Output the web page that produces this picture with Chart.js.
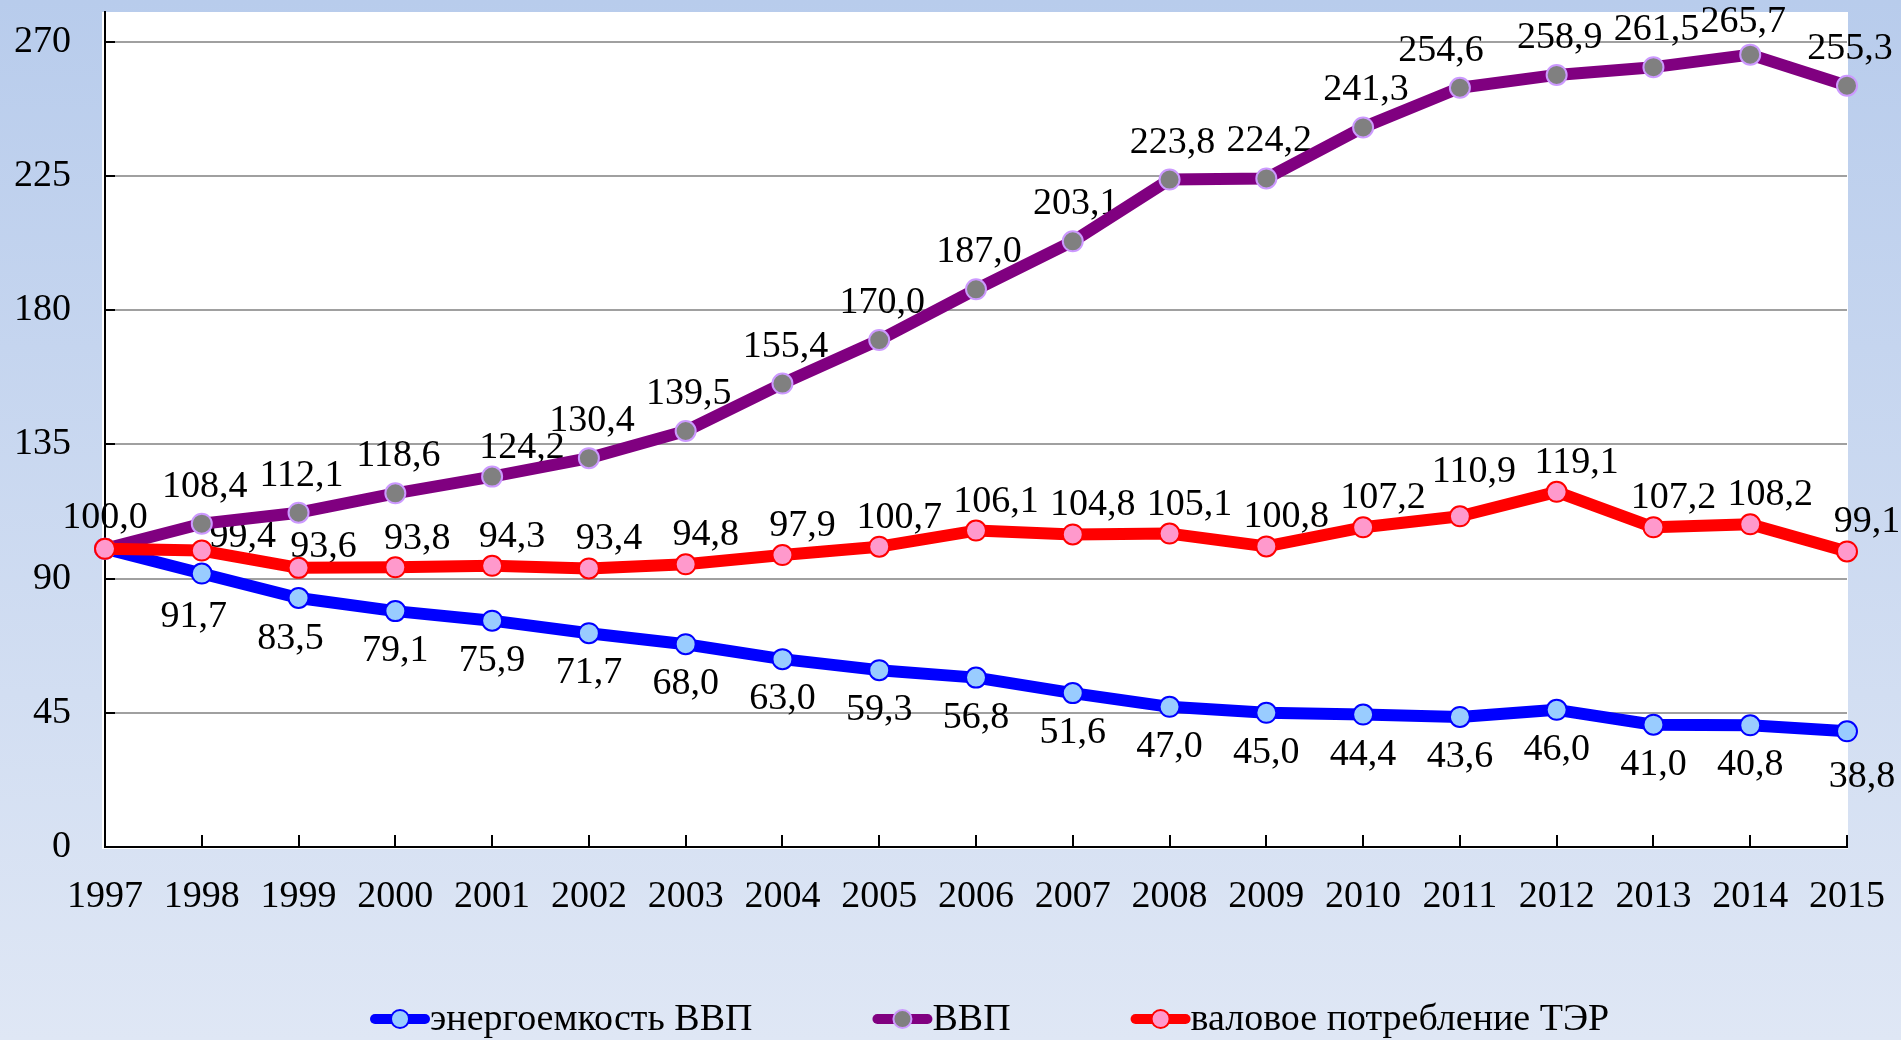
<!DOCTYPE html>
<html>
<head>
<meta charset="utf-8">
<script src="https://cdn.jsdelivr.net/npm/chart.js@4.4.1/dist/chart.umd.min.js"></script>
<style>
  html, body { margin: 0; padding: 0; background: #dfe7f5; }
  canvas { display: block; }
</style>
</head>
<body>
<canvas id="grafico" width="1901" height="1040"></canvas>
<script>
/* ---- Dados ---- */
var ANOS = ['1997','1998','1999','2000','2001','2002','2003','2004','2005','2006',
            '2007','2008','2009','2010','2011','2012','2013','2014','2015'];
var ENERGOEMKOST = [100.0, 91.7, 83.5, 79.1, 75.9, 71.7, 68.0, 63.0, 59.3, 56.8,
                    51.6, 47.0, 45.0, 44.4, 43.6, 46.0, 41.0, 40.8, 38.8];
var VVP          = [100.0, 108.4, 112.1, 118.6, 124.2, 130.4, 139.5, 155.4, 170.0, 187.0,
                    203.1, 223.8, 224.2, 241.3, 254.6, 258.9, 261.5, 265.7, 255.3];
var POTREBLENIE  = [100.0, 99.4, 93.6, 93.8, 94.3, 93.4, 94.8, 97.9, 100.7, 106.1,
                    104.8, 105.1, 100.8, 107.2, 110.9, 119.1, 107.2, 108.2, 99.1];
var NOMES = ['энергоемкость ВВП', 'ВВП', 'валовое потребление ТЭР'];
var Y_TICKS = [0, 45, 90, 135, 180, 225, 270];

var FONTE = "'Liberation Serif', 'Times New Roman', serif";

function fmtRU(v) { return v.toFixed(1).replace('.', ','); }

/* deslocamento dos rótulos por série (dx, dy do centro) */
var LBL_OFF = [[0, 40], [3, -37], [20, -29]];
/* ajustes pontuais, serie:indice */
var LBL_AJUSTE = {
    '1:0': [0, -31], '1:4': [30, -29], '1:14': [-19, -37], '1:17': [-7, -33],
    '2:1': [41, -14], '2:2': [25, -21], '2:3': [22, -28], '2:14': [14, -44],
    '0:1': [-8, 43], '0:2': [-8, 41], '0:18': [15, 46]
};
var LBL_OCULTO = { '0:0': true, '2:0': true };

/* ---- Plugins ---- */
var fundo = {
    id: 'fundo',
    beforeDraw: function(chart) {
        var c = chart.ctx, a = chart.chartArea;
        var g = c.createLinearGradient(0, 0, 0, chart.height);
        g.addColorStop(0, '#b8ccec');
        g.addColorStop(1, '#dfe7f5');
        c.save();
        c.fillStyle = g;
        c.fillRect(0, 0, chart.width, chart.height);
        c.fillStyle = '#ffffff';
        c.fillRect(a.left - 3, a.top, a.right - a.left + 4, a.bottom - a.top + 2);
        c.restore();
    }
};

var marcas = {
    id: 'marcas',
    beforeDatasetsDraw: function(chart) {
        var c = chart.ctx, a = chart.chartArea;
        var xs = chart.scales.x, ys = chart.scales.y;
        c.save();
        c.strokeStyle = '#000';
        c.lineWidth = 2;
        c.beginPath();
        Y_TICKS.forEach(function(v) {
            var y = Math.round(ys.getPixelForValue(v));
            c.moveTo(a.left, y); c.lineTo(a.left + 10, y);
        });
        ANOS.forEach(function(l, i) {
            var x = Math.round(xs.getPixelForValue(i));
            c.moveTo(x, a.bottom); c.lineTo(x, a.bottom - 12);
        });
        c.stroke();

        // rótulos de dados
        c.fillStyle = '#000';
        c.font = '38px ' + FONTE;
        c.textAlign = 'center';
        c.textBaseline = 'middle';
        chart.data.datasets.forEach(function(ds, di) {
            var meta = chart.getDatasetMeta(di);
            meta.data.forEach(function(pt, i) {
                var k = di + ':' + i;
                if (LBL_OCULTO[k]) return;
                var off = LBL_AJUSTE[k] || LBL_OFF[di];
                c.fillText(fmtRU(ds.data[i]), pt.x + off[0], pt.y + off[1]);
            });
        });
        c.restore();
    }
};

var legenda = {
    id: 'legenda',
    afterDraw: function(chart) {
        var c = chart.ctx;
        var x = 370, y = 1019;
        c.save();
        c.font = '38px ' + FONTE;
        c.textBaseline = 'middle';
        c.textAlign = 'left';
        chart.data.datasets.forEach(function(ds) {
            c.strokeStyle = ds.borderColor;
            c.lineWidth = 10;
            c.lineCap = 'round';
            c.beginPath();
            c.moveTo(x + 5, y); c.lineTo(x + 55, y);
            c.stroke();
            c.beginPath();
            c.arc(x + 30, y, 9, 0, Math.PI * 2);
            c.fillStyle = ds.pointBackgroundColor;
            c.fill();
            c.lineWidth = 2;
            c.strokeStyle = ds.pointBorderColor;
            c.stroke();
            c.fillStyle = '#000';
            c.fillText(ds.label, x + 60, y + 1);
            x += 60 + c.measureText(ds.label).width + 120;
        });
        c.restore();
    }
};

function semPadding(s) { s.paddingTop = 0; s.paddingBottom = 0; s.paddingLeft = 0; s.paddingRight = 0; }

function serie(label, data, linha, fundoPt, bordaPt, ordem) {
    return {
        label: label, data: data,
        borderColor: linha, borderWidth: 12,
        borderJoinStyle: 'round', borderCapStyle: 'round',
        pointRadius: 10, pointHoverRadius: 10,
        pointBackgroundColor: fundoPt, pointBorderColor: bordaPt, pointBorderWidth: 2,
        tension: 0, fill: false, order: ordem
    };
}

new Chart(document.getElementById('grafico'), {
    type: 'line',
    data: {
        labels: ANOS,
        datasets: [
            serie(NOMES[0], ENERGOEMKOST, '#0000ff', '#99ccff', '#0000ff', 2),
            serie(NOMES[1], VVP, '#800080', '#808080', '#cc99ff', 1),
            serie(NOMES[2], POTREBLENIE, '#ff0000', '#ff99cc', '#ff0000', 0)
        ]
    },
    options: {
        responsive: false, animation: false, devicePixelRatio: 1,
        layout: { padding: { left: 0, right: 54, top: 12, bottom: 0 } },
        plugins: { legend: { display: false }, tooltip: { enabled: false } },
        scales: {
            x: {
                offset: false,
                grid: { display: false, drawTicks: false },
                border: { color: '#000', width: 2 },
                ticks: { font: { family: FONTE, size: 38 }, color: '#000', padding: 27,
                         autoSkip: false, maxRotation: 0 },
                afterFit: function(s) { s.height = 193; semPadding(s); }
            },
            y: {
                min: 0, max: 280,
                grid: { color: '#a0a0a0', lineWidth: 2, drawTicks: false },
                border: { color: '#000', width: 2 },
                ticks: { font: { family: FONTE, size: 38 }, color: '#000', padding: 34 },
                afterBuildTicks: function(s) { s.ticks = Y_TICKS.map(function(v) { return { value: v }; }); },
                afterFit: function(s) { s.width = 105; semPadding(s); }
            }
        }
    },
    plugins: [fundo, marcas, legenda]
});
</script>
</body>
</html>
